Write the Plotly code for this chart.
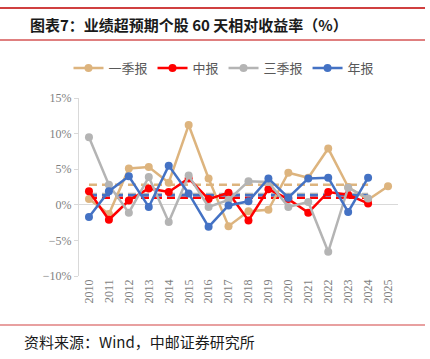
import plotly.graph_objects as go

years = [str(y) for y in range(2010, 2026)]
q1 = [0.8, -1.3, 5.1, 5.3, 3.1, 11.2, 3.7, -3.0, -0.9, -0.7, 4.5, 3.8, 7.9, 2.5, 0.7, 2.6]
h1 = [1.9, -2.1, 0.6, 2.3, 1.8, 3.7, 0.8, 1.7, -2.2, 2.2, 0.8, -1.1, 1.8, 1.4, 0.2, None]
q3 = [9.5, 2.8, -1.1, 3.9, -2.4, 4.1, -0.3, 0.7, 3.3, 3.2, -0.3, 0.4, -6.6, 2.4, 0.9, None]
fy = [-1.7, 1.9, 4.0, -0.3, 5.5, 1.6, -3.1, -0.1, 0.5, 3.7, 1.0, 3.7, 3.8, -1.0, 3.8, None]
avg_years = years[:15]
avg_q1, avg_h1, avg_q3, avg_fy = 2.8, 1.0, 1.5, 1.35

names = ["一季报", "中报", "三季报", "年报"]
colors = ["#DDB47E", "#FF0000", "#B4B4B4", "#4472C4"]
series = [q1, h1, q3, fy]
avgs = [avg_q1, avg_h1, avg_q3, avg_fy]

fig = go.Figure()
for a, c in zip(avgs, colors):
    fig.add_trace(go.Scatter(x=avg_years, y=[a] * len(avg_years), mode="lines",
                             line=dict(color=c, width=2.5, dash="8px,5px"),
                             showlegend=False, hoverinfo="skip"))
for n, s, c in zip(names, series, colors):
    fig.add_trace(go.Scatter(x=years, y=s, name=n, mode="lines+markers",
                             line=dict(color=c, width=2.5),
                             marker=dict(color=c, size=8)))

L, R, T, B = 79, 32, 98, 83
W, H = 430, 359
pw, ph = W - L - R, H - T - B
def px(x): return (x - L) / pw
def py(y): return (H - B - y) / ph

fig.update_layout(
    width=W, height=H, margin=dict(l=L, r=R, t=T, b=B, autoexpand=False),
    paper_bgcolor="white", plot_bgcolor="white",
    showlegend=True,
    legend=dict(orientation="h", x=px(224), xanchor="center", y=py(68), yanchor="middle",
                font=dict(family="Noto Sans CJK SC", size=13, color="#595959"),
                itemwidth=30, tracegroupgap=0, bgcolor="rgba(0,0,0,0)"),
    xaxis=dict(type="category", range=[-0.5, 15.5], showgrid=False, showline=False,
               tickangle=-90, ticks="",
               tickfont=dict(family="Liberation Serif", size=12, color="#7F7F7F")),
    yaxis=dict(range=[-10, 15], dtick=5, ticksuffix="%", showgrid=False,
               showline=True, linecolor="#D9D9D9", linewidth=1,
               ticks="outside", ticklen=4, tickcolor="#D9D9D9",
               zeroline=True, zerolinecolor="#D9D9D9", zerolinewidth=1,
               tickfont=dict(family="Liberation Serif", size=12, color="#7F7F7F")),
    shapes=[
        dict(type="line", xref="paper", yref="paper", x0=px(0), x1=px(425), y0=py(8), y1=py(8),
             line=dict(color="#C00000", width=1.5)),
        dict(type="line", xref="paper", yref="paper", x0=px(0), x1=px(425), y0=py(40), y1=py(40),
             line=dict(color="#C00000", width=1)),
        dict(type="line", xref="paper", yref="paper", x0=px(0), x1=px(425), y0=py(325), y1=py(325),
             line=dict(color="#E08080", width=1.5)),
    ],
    annotations=[
        dict(text="<b>图表7：业绩超预期个股 60 天相对收益率（%）</b>", xref="paper", yref="paper",
             x=px(28), y=py(24), xanchor="left", yanchor="middle", showarrow=False,
             font=dict(family="Noto Sans CJK SC", size=15, color="#1A1A1A")),
        dict(text="资料来源：Wind，中邮证券研究所", xref="paper", yref="paper",
             x=px(22), y=py(341), xanchor="left", yanchor="middle", showarrow=False,
             font=dict(family="Noto Sans CJK SC", size=15, color="#1A1A1A")),
    ],
)
fig.write_html("out.html", config={"displayModeBar": False},
               post_script="document.body.style.margin='0';")
